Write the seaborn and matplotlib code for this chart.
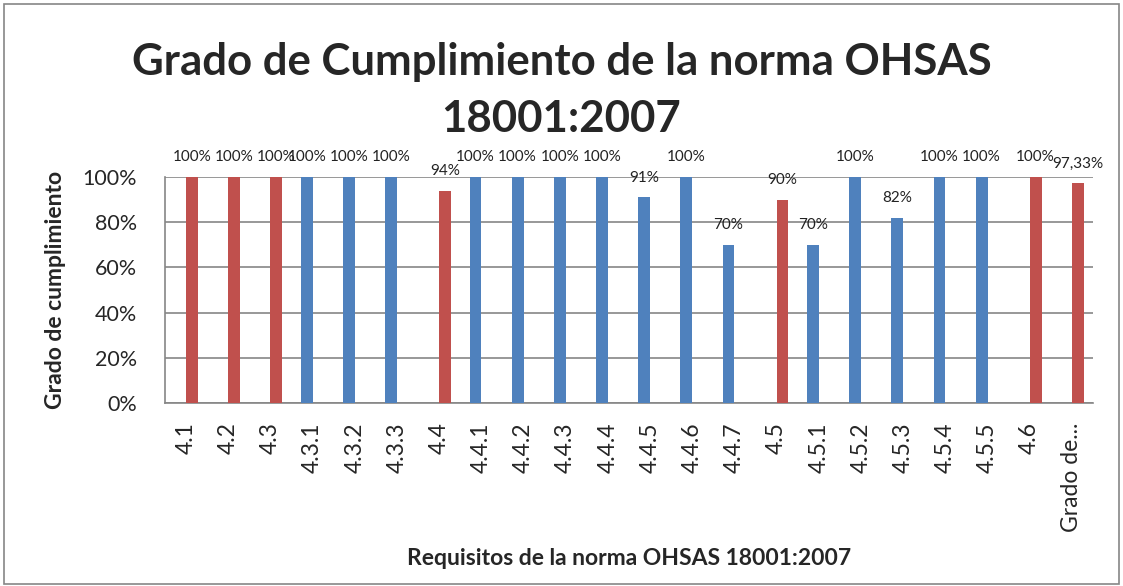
import pandas as pd
import seaborn as sns
import matplotlib.pyplot as plt
from matplotlib.patches import Rectangle
from matplotlib.ticker import PercentFormatter, FixedLocator

# Datos
requisitos = ["4.1", "4.2", "4.3", "4.3.1", "4.3.2", "4.3.3", "4.4", "4.4.1",
              "4.4.2", "4.4.3", "4.4.4", "4.4.5", "4.4.6", "4.4.7", "4.5",
              "4.5.1", "4.5.2", "4.5.3", "4.5.4", "4.5.5", "4.6", "Grado de..."]
cumplimiento = [100, 100, 100, 100, 100, 100, 94, 100, 100, 100, 100, 91,
                100, 70, 90, 70, 100, 82, 100, 100, 100, 97.33]
serie = ["principal", "principal", "principal", "sub", "sub", "sub",
         "principal", "sub", "sub", "sub", "sub", "sub", "sub", "sub",
         "principal", "sub", "sub", "sub", "sub", "sub", "principal",
         "principal"]

df = pd.DataFrame({"req": requisitos, "valor": [v / 100 for v in cumplimiento],
                   "serie": serie})

def etiqueta(v):
    if v == int(v):
        return f"{v:.0f}%"
    return f"{v:.2f}%".replace(".", ",")

sns.set_style("white")
plt.rcParams["font.family"] = ["Lato", "DejaVu Sans"]

fig = plt.figure(figsize=(11.23, 5.86), dpi=100)
ax = fig.add_axes([165 / 1123, 1 - 403 / 586, (1093 - 165) / 1123, (403 - 177) / 586])

gris = "#868686"
sns.barplot(data=df, x="req", y="valor", hue="serie", hue_order=["sub", "principal"],
            palette={"sub": "#4F81BD", "principal": "#C0504D"}, dodge=True,
            width=0.56, saturation=1, legend=False, linewidth=0, ax=ax, zorder=3)

# etiquetas de datos
for cont in ax.containers:
    textos = []
    for rect in cont:
        textos.append(etiqueta(round(rect.get_height() * 100, 2)))
    ax.bar_label(cont, labels=textos, padding=9, fontsize=11, clip_on=False,
                 color="#222222")

ax.set_ylim(0, 1)
ax.set_xlim(-0.5, len(requisitos) - 0.5)
ax.yaxis.set_major_formatter(PercentFormatter(1.0, decimals=0))
ax.set_yticks([0, 0.2, 0.4, 0.6, 0.8, 1.0])
ax.grid(axis="y", color=gris, linewidth=1.2, zorder=0)
ax.set_axisbelow(True)

for s in ["top", "right"]:
    ax.spines[s].set_visible(False)
for s in ["left", "bottom"]:
    ax.spines[s].set_color(gris)
    ax.spines[s].set_linewidth(1.2)

ax.xaxis.set_minor_locator(FixedLocator([i - 0.5 for i in range(len(requisitos) + 1)]))
ax.tick_params(axis="x", which="major", length=0, pad=14, labelsize=16.5, rotation=90)
ax.tick_params(axis="x", which="minor", length=8, color=gris, width=1.2)
ax.tick_params(axis="y", length=8, color=gris, width=1.2, pad=12, labelsize=15.5)
for lab in ax.get_xticklabels():
    lab.set_verticalalignment("top")

ax.set_xlabel("Requisitos de la norma OHSAS 18001:2007", fontsize=16.5,
              fontweight="bold", labelpad=12)
ax.set_ylabel("Grado de cumplimiento", fontsize=16.5, fontweight="bold", labelpad=12)

fig.suptitle("Grado de Cumplimiento de la norma OHSAS\n18001:2007", fontsize=31.5,
             fontweight="bold", y=1 - 42 / 586, va="top", linespacing=1.5)

fig.patches.append(Rectangle((0.004, 0.004), 0.992, 0.99, transform=fig.transFigure,
                             fill=False, edgecolor=gris, linewidth=1.2))

fig.savefig("out.png", dpi=100)
